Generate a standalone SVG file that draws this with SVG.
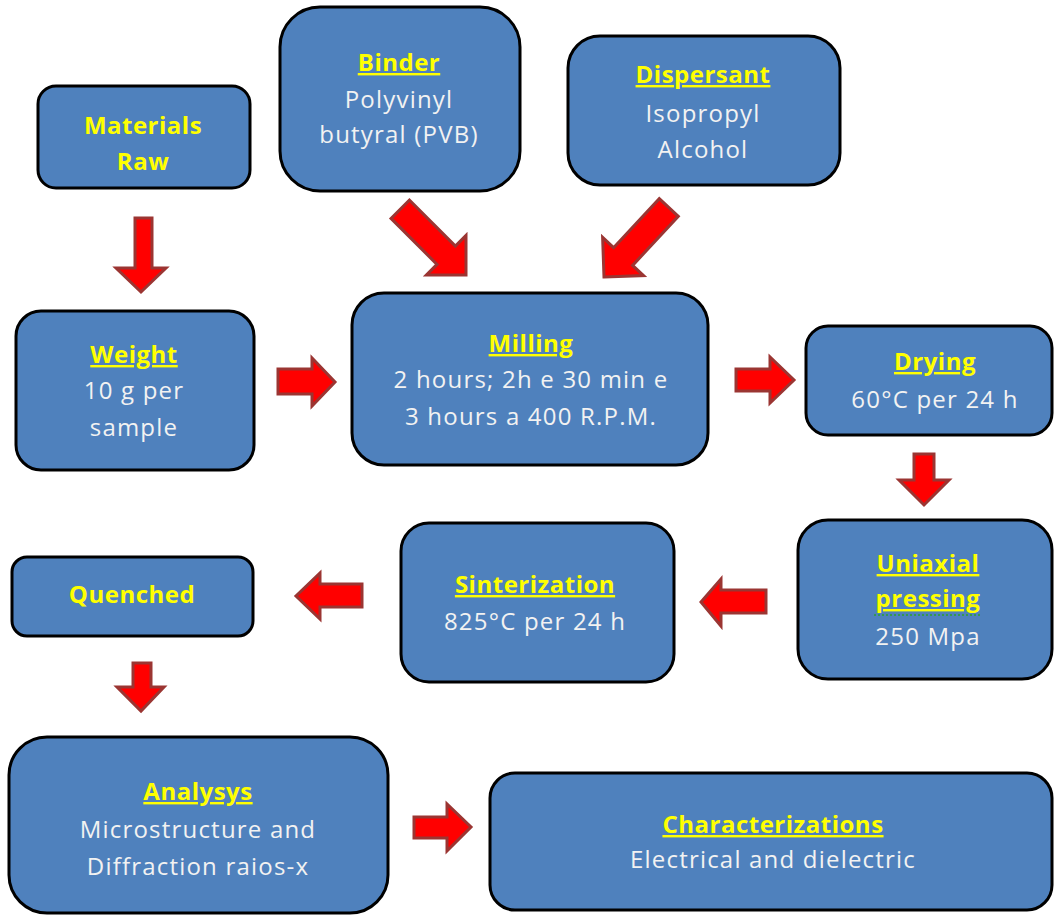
<svg xmlns="http://www.w3.org/2000/svg" width="1054" height="915" viewBox="0 0 1054 915">
<style>
.box{fill:#4F81BD;stroke:#000;stroke-width:3}
.t{font-family:"Open Sans","Liberation Sans",sans-serif;font-size:24px;font-weight:bold;fill:#FFFF00;text-anchor:middle;letter-spacing:0.5px}
.u{text-decoration:underline}
.b{font-family:"Open Sans","Liberation Sans",sans-serif;font-size:24px;fill:#F2F2F2;text-anchor:middle;letter-spacing:1.2px}
.arr{fill:#FF0000;stroke:#9B3532;stroke-width:3;stroke-linejoin:miter}
</style>
<rect width="1054" height="915" fill="#fff"/>
<g id="connectors">
<polygon class="arr" points="135,218 152,218 152,268 166,268 141,292 116,268 135,268"/>
<polygon class="arr" transform="translate(466,275) rotate(45)" points="0,0 -28,-28 -28,-13 -93,-13 -93,13 -28,13 -28,28"/>
<polygon class="arr" transform="translate(604,277) rotate(133)" points="0,0 -28,-28 -28,-13 -95,-13 -95,13 -28,13 -28,28"/>
<polygon class="arr" points="278,369 312,369 312,358 335,382 312,406 312,394 278,394"/>
<polygon class="arr" points="736,369 770,369 770,357 794,380 770,403 770,391 736,391"/>
<polygon class="arr" points="914,454 934,454 934,480 949,480 924,505 899,480 914,480"/>
<polygon class="arr" points="766,590 721,590 721,579 701,602 721,626 721,613 766,613"/>
<polygon class="arr" points="362,584 320,584 320,573 296,596 320,619 320,607 362,607"/>
<polygon class="arr" points="133,663 151,663 151,687 164,687 141,711 117,687 133,687"/>
<polygon class="arr" points="414,817 447,817 447,804 471,827 447,851 447,838 414,838"/>
</g>
<g id="materials">
<rect class="box" x="38" y="86" width="212" height="102" rx="18"/>
<text class="t" x="143" y="134">Materials</text>
<text class="t" x="143" y="170">Raw</text>
</g>
<g id="binder">
<rect class="box" x="280" y="7" width="240" height="184" rx="40"/>
<text class="t u" x="399" y="71">Binder</text>
<text class="b" x="399" y="108">Polyvinyl</text>
<text class="b" x="399" y="143">butyral (PVB)</text>
</g>
<g id="dispersant">
<rect class="box" x="568" y="36" width="272" height="149" rx="32"/>
<text class="t u" x="703" y="83">Dispersant</text>
<text class="b" x="703" y="122">Isopropyl</text>
<text class="b" x="703" y="158">Alcohol</text>
</g>
<g id="weight">
<rect class="box" x="16" y="311" width="238" height="159" rx="25"/>
<text class="t u" x="134" y="363">Weight</text>
<text class="b" x="134" y="399">10 g per</text>
<text class="b" x="134" y="436">sample</text>
</g>
<g id="milling">
<rect class="box" x="352" y="293" width="356" height="172" rx="32"/>
<text class="t u" x="531" y="352">Milling</text>
<text class="b" x="531" y="388">2 hours; 2h e 30 min e</text>
<text class="b" x="531" y="425">3 hours a 400 R.P.M.</text>
</g>
<g id="drying">
<rect class="box" x="806" y="326" width="246" height="109" rx="22"/>
<text class="t u" x="935" y="370">Drying</text>
<text class="b" x="935" y="408">60°C per 24 h</text>
</g>
<g id="uniaxial">
<rect class="box" x="798" y="520" width="254" height="159" rx="30"/>
<text class="t u" x="928" y="572">Uniaxial</text>
<text class="t u" x="928" y="607">pressing</text>
<line x1="874" y1="615" x2="982" y2="615" stroke="#2E9E2E" stroke-width="1.5" stroke-dasharray="2,2"/>
<text class="b" x="928" y="645">250 Mpa</text>
</g>
<g id="sinterization">
<rect class="box" x="401" y="523" width="273" height="159" rx="28"/>
<text class="t u" x="535" y="593">Sinterization</text>
<text class="b" x="535" y="630">825°C per 24 h</text>
</g>
<g id="quenched">
<rect class="box" x="12" y="557" width="241" height="79" rx="15"/>
<text class="t" x="132" y="603">Quenched</text>
</g>
<g id="analysys">
<rect class="box" x="9" y="737" width="379" height="176" rx="38"/>
<text class="t u" x="198" y="800">Analysys</text>
<text class="b" x="198" y="838">Microstructure and</text>
<text class="b" x="198" y="875">Diffraction raios-x</text>
</g>
<g id="characterizations">
<rect class="box" x="490" y="773" width="562" height="137" rx="25"/>
<text class="t u" x="773" y="833">Characterizations</text>
<text class="b" x="773" y="868">Electrical and dielectric</text>
</g>
</svg>
